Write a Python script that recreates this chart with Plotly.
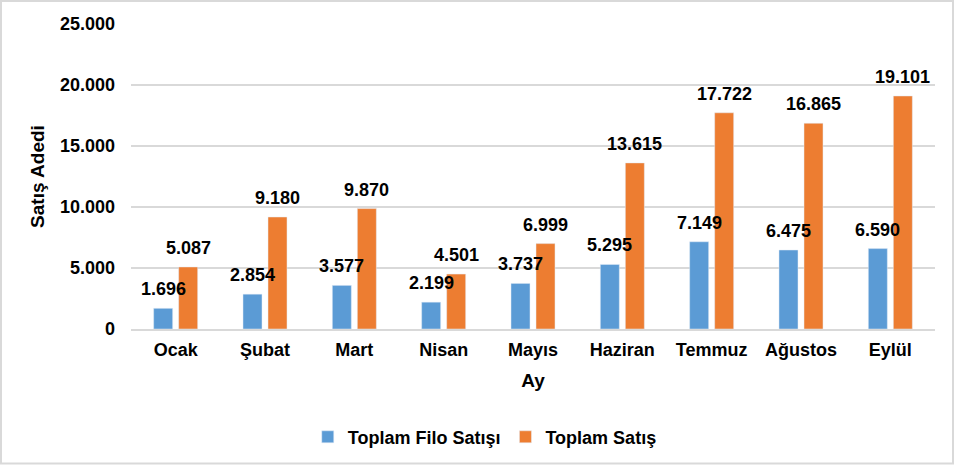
import plotly.graph_objects as go

# Monthly sales figures
months = ["Ocak", "Şubat", "Mart", "Nisan", "Mayıs", "Haziran", "Temmuz", "Ağustos", "Eylül"]
fleet_sales = [1696, 2854, 3577, 2199, 3737, 5295, 7149, 6475, 6590]
total_sales = [5087, 9180, 9870, 4501, 6999, 13615, 17722, 16865, 19101]
y_ticks = [0, 5000, 10000, 15000, 20000, 25000]


def fmt(v):
    # Turkish thousands separator
    return f"{v:,}".replace(",", ".")


W, H = 954, 466
ml, mr, mt, mb = 131, 19, 24, 136
font_family = "Liberation Sans, Arial, sans-serif"

fig = go.Figure()
fig.add_trace(go.Bar(x=months, y=fleet_sales, name="Toplam Filo Satışı", marker_color="#5B9BD5"))
fig.add_trace(go.Bar(x=months, y=total_sales, name="Toplam Satış", marker_color="#ED7D31"))

# value labels above the bars (offset to each bar of the group)
for series, shift in [(fleet_sales, -12.5), (total_sales, 12.5)]:
    for m, v in zip(months, series):
        fig.add_annotation(
            x=m, y=v, text=fmt(v), showarrow=False,
            xshift=shift, yshift=7, yanchor="bottom",
            font=dict(size=18, color="black", family=font_family, weight="bold"),
        )

pw = W - ml - mr
ph = H - mt - mb
# light grey frame around the whole chart
fig.add_shape(
    type="rect", xref="paper", yref="paper",
    x0=-(ml - 1) / pw, x1=1 + (mr - 1) / pw,
    y0=-(mb - 1) / ph, y1=1 + (mt - 1) / ph,
    line=dict(color="#D9D9D9", width=2), fillcolor="rgba(0,0,0,0)", layer="below",
)

fig.update_layout(
    width=W, height=H,
    margin=dict(l=ml, r=mr, t=mt, b=mb),
    paper_bgcolor="white", plot_bgcolor="white",
    barmode="group", bargap=0.44, bargroupgap=0.24,
    font=dict(family=font_family, size=18, color="black", weight="bold"),
    showlegend=True,
    legend=dict(orientation="h", x=0.44, xanchor="center", y=-0.35, yanchor="middle",
                font=dict(size=18, weight="bold")),
    xaxis=dict(
        title=dict(text="Ay", font=dict(size=19, weight="bold"), standoff=14),
        showline=True, linecolor="#D9D9D9", linewidth=1.5, ticks="",
        tickfont=dict(size=18, weight="bold"), ticklabelstandoff=4,
    ),
    yaxis=dict(
        title=dict(text="Satış Adedi", font=dict(size=19, weight="bold"), standoff=10),
        range=[0, 25000], tickvals=y_ticks, ticktext=[fmt(v) for v in y_ticks],
        showgrid=True, gridcolor="#D9D9D9", gridwidth=1.5, zeroline=False,
        ticks="", tickfont=dict(size=18, weight="bold"), ticklabelstandoff=15,
    ),
)

fig.write_html("out.html", config={"displayModeBar": False},
               post_script="document.body.style.margin='0';")
